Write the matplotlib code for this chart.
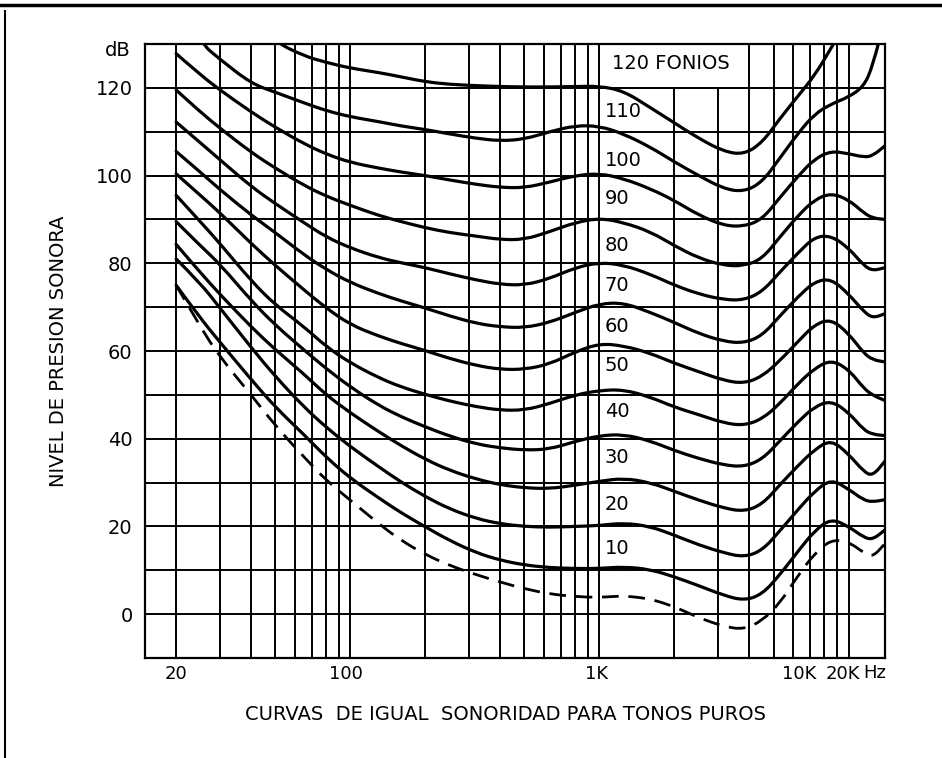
import matplotlib
matplotlib.use("Agg")
import matplotlib.pyplot as plt
from matplotlib.patches import Rectangle, PathPatch
from matplotlib.path import Path
from matplotlib.lines import Line2D

plt.rcParams['font.family'] = ['DejaVu Sans']

freqs = [20, 25, 30, 40, 50, 65, 80, 100, 130, 160, 200, 250, 320, 400, 500, 630,
         800, 1000, 1250, 1600, 2000, 2500, 3150, 3800, 4500, 5300, 6300, 7300,
         8500, 10000, 11500, 12500, 14000]

# sound pressure level (dB) of each equal-loudness curve (phons)
phon_120 = [150, 146, 142, 136, 130.5, 127.3, 125.8, 124.5, 123.5, 122.5, 121.4, 120.8, 120.5, 120.3, 120.2, 120.2,
            120.3, 120.4, 119.3, 115.5, 112.0, 108.5, 105.5, 104.8, 107.5, 113.0, 118.3, 122.8,
            129.0, 136, 142, 146, 150]
phon_110 = [140, 130.3, 126.5, 121.0, 119.0, 116.6, 114.8, 113.4, 112.3, 111.3, 110.5, 109.5, 108.5, 107.9, 108.3, 110.0,
            111.4, 111.3, 109.5, 106.5, 103.1, 100.0, 97.0, 96.3, 98.5, 104.0, 109.8, 114.0,
            116.3, 117.9, 120.3, 125.0, 136]
phon_100 = [127.8, 123.0, 119.5, 114.5, 111.0, 107.3, 104.9, 103.0, 101.7, 100.8, 100.0, 99.0, 98.0, 97.3, 97.2, 98.5,
            100.0, 100.5, 99.3, 97.0, 94.3, 91.0, 88.6, 88.4, 90.0, 95.0, 100.0, 103.8,
            105.6, 105.0, 104.2, 104.5, 106.8]
phon_90 = [119.5, 114.5, 110.8, 105.3, 101.7, 97.8, 95.3, 93.2, 90.9, 89.5, 88.1, 87.0, 86.2, 85.4, 85.4, 87.2,
           89.3, 90.3, 89.3, 87.2, 84.0, 81.2, 79.5, 79.4, 81.0, 86.0, 91.0, 94.5,
           96.0, 94.5, 91.5, 90.3, 90.0]
phon_80 = [112.2, 107.5, 103.6, 97.5, 93.6, 89.3, 86.0, 83.5, 81.3, 80.1, 79.0, 77.6, 76.2, 75.2, 75.0, 76.5,
           79.0, 80.2, 79.6, 77.5, 75.0, 73.0, 71.7, 71.6, 73.5, 78.0, 82.5, 86.0,
           86.3, 83.5, 79.5, 78.3, 79.0]
phon_70 = [105.5, 100.8, 96.8, 91.0, 87.0, 82.0, 78.6, 75.6, 73.1, 71.4, 69.8, 68.0, 66.3, 65.5, 65.3, 66.5,
           68.8, 70.8, 71.0, 68.8, 66.5, 64.0, 62.2, 61.8, 63.5, 68.0, 72.5, 75.8,
           76.5, 73.0, 69.0, 67.5, 68.5]
phon_60 = [100.4, 95.5, 91.5, 84.5, 79.5, 74.0, 69.8, 66.0, 63.4, 61.7, 60.1, 58.3, 56.7, 55.8, 55.8, 57.0,
           59.8, 61.7, 61.2, 59.5, 57.2, 55.3, 53.3, 52.6, 54.2, 57.8, 62.3, 66.0,
           67.3, 64.0, 59.5, 58.0, 57.5]
phon_50 = [95.5, 89.5, 84.5, 76.0, 70.5, 65.6, 61.0, 57.3, 53.9, 51.8, 50.1, 48.6, 47.3, 46.5, 46.5, 48.0,
           50.0, 51.0, 51.2, 49.5, 47.2, 45.5, 43.6, 43.0, 44.5, 48.0, 52.7, 56.0,
           58.0, 55.8, 51.5, 49.9, 48.7]
phon_40 = [89.5, 84.0, 79.8, 71.5, 65.9, 60.3, 56.0, 51.8, 47.6, 45.0, 42.7, 40.6, 38.8, 37.9, 37.4, 37.6,
           39.4, 40.7, 41.0, 39.5, 37.3, 35.5, 34.0, 33.6, 35.3, 39.5, 44.0, 47.3,
           48.7, 46.0, 42.0, 41.0, 40.7]
phon_30 = [84.3, 77.9, 72.9, 65.5, 60.3, 54.8, 50.0, 45.9, 41.6, 38.4, 35.3, 32.8, 30.8, 29.5, 28.8, 28.6,
           29.4, 30.3, 31.0, 30.0, 28.0, 26.0, 24.2, 23.4, 25.0, 29.5, 34.0, 37.5,
           39.8, 36.5, 32.5, 31.5, 34.9]
phon_20 = [81.0, 75.5, 69.8, 60.8, 54.2, 47.3, 42.6, 38.2, 33.6, 30.1, 26.8, 24.0, 21.8, 20.6, 20.0, 19.8,
           20.0, 20.2, 20.8, 20.0, 18.0, 15.8, 14.0, 13.0, 14.5, 19.0, 24.0, 28.0,
           30.8, 28.5, 26.0, 25.6, 26.1]
phon_10 = [75.0, 67.5, 62.0, 53.5, 47.2, 41.0, 35.8, 31.0, 26.5, 23.1, 19.9, 16.8, 14.0, 12.3, 11.2, 10.6,
           10.4, 10.4, 10.8, 10.2, 8.5, 6.5, 4.3, 3.1, 4.5, 9.0, 14.5, 19.0,
           21.8, 20.0, 17.5, 17.0, 19.2]
threshold = [75.0, 65.5, 58.6, 50.0, 43.0, 35.9, 30.5, 26.0, 20.6, 16.8, 13.6, 11.1, 9.0, 7.3, 5.8, 4.6,
             4.0, 3.8, 4.2, 3.5, 1.7, -0.8, -2.8, -3.5, -1.5, 2.5, 9.0, 13.8,
             17.0, 16.5, 14.0, 13.0, 16.1]

curves = [phon_120, phon_110, phon_100, phon_90, phon_80, phon_70, phon_60,
          phon_50, phon_40, phon_30, phon_20, phon_10]

# curve labels and the level where each one sits (just above its curve)
label_texts = ['110', '100', '90', '80', '70', '60', '50', '40', '30', '20', '10']
label_levels = [114.6, 103.5, 94.8, 84.0, 74.9, 65.6, 56.8, 46.2, 35.8, 25.0, 15.0]

# chart grid
grid_freqs = [20, 30, 40, 50, 60, 70, 80, 90, 100, 200, 300, 400, 500, 600, 700, 800, 900,
              1000, 2000, 3000, 4000, 5000, 6000, 7000, 8000, 9000, 10000]
grid_levels = list(range(0, 130, 10))
y_ticks = [0, 20, 40, 60, 80, 100, 120]
x_tick_pos = [20, 96, 975, 6350, 9450]
x_tick_labels = ['20', '100', '1K', '10K', '20K']


def smooth_path(xs, ys):
    # quadratic bezier through the midpoints, using the read points as control points
    verts = [(xs[0], ys[0])]
    codes = [Path.MOVETO]
    for i in range(1, len(xs) - 1):
        mx = (xs[i] * xs[i + 1]) ** 0.5
        my = (ys[i] + ys[i + 1]) / 2
        verts += [(xs[i], ys[i]), (mx, my)]
        codes += [Path.CURVE3, Path.CURVE3]
    verts.append((xs[-1], ys[-1]))
    codes.append(Path.LINETO)
    return Path(verts, codes)


fig = plt.figure(figsize=(9.42, 7.58), dpi=100)
ax = fig.add_axes([145 / 942, 1 - 658 / 758, 740 / 942, 614 / 758])
ax.set_xscale('log')
ax.set_xlim(15, 14000)
ax.set_ylim(-10, 130)

for f in grid_freqs:
    ax.axvline(f, color='black', lw=1.4, zorder=1)
for lv in grid_levels:
    ax.axhline(lv, color='black', lw=1.4, zorder=1)

# blank box for the "120 FONIOS" label
ax.add_patch(Rectangle((1000, 120), 3000, 10, facecolor='white', edgecolor='black',
                       lw=1.4, zorder=2))
ax.text(1120, 125.6, '120 FONIOS', fontsize=14, va='center', ha='left', zorder=4)

for c in curves:
    ax.add_patch(PathPatch(smooth_path(freqs, c), fill=False, ec='black', lw=2.3,
                           zorder=3, capstyle='round'))
ax.add_patch(PathPatch(smooth_path(freqs, threshold), fill=False, ec='black', lw=2.0,
                       linestyle=(0, (6, 3.5)), zorder=3))

for t, lv in zip(label_texts, label_levels):
    ax.text(1050, lv, t, fontsize=14, ha='left', va='center', zorder=4)

for s in ax.spines.values():
    s.set_linewidth(1.6)

ax.set_yticks(y_ticks)
ax.set_yticklabels([str(v) for v in y_ticks], fontsize=14)
ax.set_xticks(x_tick_pos)
ax.set_xticklabels(x_tick_labels, fontsize=13)
ax.minorticks_off()
ax.tick_params(axis='y', length=0, pad=9)
ax.tick_params(axis='x', length=0, pad=5)
ax.text(-0.02, 0.99, 'dB', transform=ax.transAxes, fontsize=14, ha='right', va='center')
ax.text(12700, -0.025, 'Hz', transform=ax.get_xaxis_transform(), fontsize=13,
        ha='center', va='center')

ax.set_ylabel('NIVEL DE PRESION SONORA', fontsize=14, labelpad=20)
fig.text(0.537, 0.057, 'CURVAS  DE IGUAL  SONORIDAD PARA TONOS PUROS', fontsize=14,
         ha='center', va='center')

# page border of the scanned sheet
fig.add_artist(Line2D([0, 1], [0.994, 0.994], color='black', lw=2.5, transform=fig.transFigure))
fig.add_artist(Line2D([0.005, 0.005], [0, 0.985], color='black', lw=1.5, transform=fig.transFigure))

fig.savefig('out.png', dpi=100)
